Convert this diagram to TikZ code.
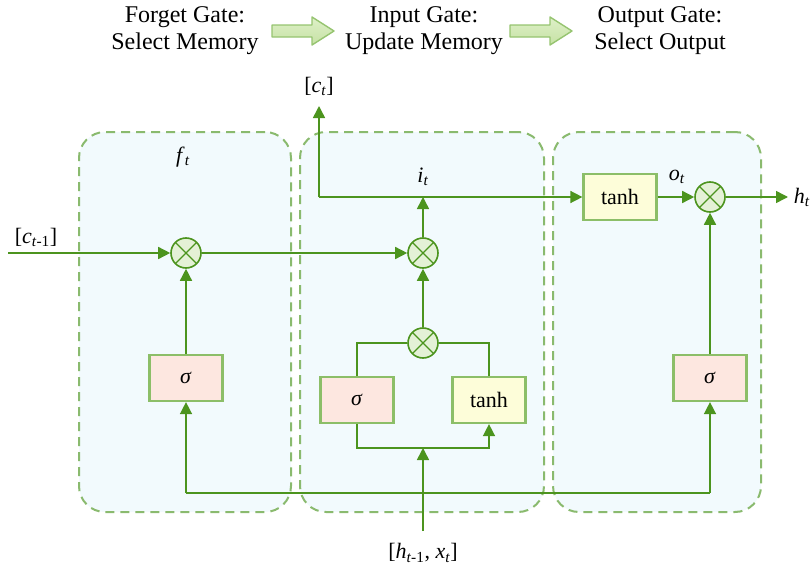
\documentclass[tikz,border=0pt]{standalone}
\usepackage{fontspec}
\setmainfont{Liberation Serif}
\newfontfamily\diagfont{Liberation Serif}
\usetikzlibrary{arrows.meta}

\definecolor{flow}{RGB}{76,148,30}
\definecolor{mulfill}{RGB}{228,241,214}
\definecolor{panelfill}{RGB}{242,250,253}
\definecolor{paneldraw}{RGB}{138,186,110}
\definecolor{boxdraw}{RGB}{140,190,104}
\definecolor{sigfill}{RGB}{253,231,224}
\definecolor{tanhfill}{RGB}{253,253,217}
\definecolor{hdrfill}{RGB}{198,226,164}
\definecolor{hdrlight}{RGB}{222,240,200}
\definecolor{hdrdraw}{RGB}{150,196,112}

% italic variable with an italic subscript
\newcommand\var[2]{\textit{#1}\textsubscript{\textit{#2}}}

\begin{document}
\begin{tikzpicture}[x=1pt,y=-1pt,
  font=\diagfont\fontsize{22}{26}\selectfont,
  gatebox/.style={draw=paneldraw, fill=panelfill, line width=2pt,
    dash pattern=on 9pt off 6pt, rounded corners=26pt, inner sep=0pt},
  hdr/.style={align=center, font=\diagfont\fontsize{24}{27}\selectfont, inner sep=0pt},
  hdrarrow/.style={draw=hdrdraw, top color=hdrlight, bottom color=hdrfill,
    line width=1.4pt, line join=round},
  mul/.style={circle, draw=flow, fill=mulfill, line width=1.6pt,
    minimum size=30pt, inner sep=0pt,
    path picture={\draw[flow, line width=1.4pt]
      (path picture bounding box.north west) -- (path picture bounding box.south east)
      (path picture bounding box.north east) -- (path picture bounding box.south west);}},
  actbox/.style={draw=boxdraw, line width=2.2pt, minimum width=73pt,
    minimum height=46pt, inner sep=0pt},
  sigbox/.style={actbox, fill=sigfill},
  tanhbox/.style={actbox, fill=tanhfill},
  wire/.style={draw=flow, line width=1.5pt},
  wirearrow/.style={wire, -{Triangle[length=12pt,width=12pt]}},
  lbl/.style={inner sep=0pt}
]
\useasboundingbox (0,0) rectangle (812,570);

% headline: the three stages
\node[hdr] (hforget) at (185,31) {Forget Gate:\\Select Memory};
\node[hdr] (hinput) at (424,31) {Input Gate:\\Update Memory};
\node[hdr] (houtput) at (660,31) {Output Gate:\\Select Output};
\draw[hdrarrow] (272,25) -- (312,25) -- (312,17) -- (334,31) -- (312,45) -- (312,37) -- (272,37) -- cycle;
\draw[hdrarrow] (510,25) -- (550,25) -- (550,17) -- (572,31) -- (550,45) -- (550,37) -- (510,37) -- cycle;

% gate panels
\node[gatebox, minimum width=212pt, minimum height=380pt] (pforget) at (185,322) {};
\node[gatebox, minimum width=244pt, minimum height=380pt] (pinput) at (422,322) {};
\node[gatebox, minimum width=208pt, minimum height=380pt] (poutput) at (657,322) {};

% operations
\node[mul] (m1) at (186,253) {};
\node[mul] (m2) at (423,253) {};
\node[mul] (m3) at (423,343) {};
\node[mul] (m4) at (710,197) {};
\node[sigbox] (s1) at (186,378) {\textit{σ}};
\node[sigbox] (s2) at (357,400) {\textit{σ}};
\node[tanhbox] (t2) at (489,400) {tanh};
\node[tanhbox] (t3) at (620,197) {tanh};
\node[sigbox] (s3) at (710,378) {\textit{σ}};

% free ends and junctions
\coordinate (cin) at (8,253);
\coordinate (hin) at (423,531);
\coordinate (j) at (423,448);
\coordinate (bl) at (186,493);
\coordinate (br) at (710,493);
\coordinate (ctap) at (319,197);
\coordinate (ctop) at (319,106);
\coordinate (hout) at (788,197);

% cell state path
\draw[wirearrow] (cin) -- (m1);
\draw[wirearrow] (m1) -- (m2);
\draw[wirearrow] (m3) -- (m2);
\draw[wirearrow] (m2) -- (m2 |- ctap);
\draw[wirearrow] (ctap) -- (ctop);
\draw[wirearrow] (ctap) -- (t3);
\draw[wirearrow] (t3) -- (m4);
\draw[wirearrow] (m4) -- (hout);

% gate activations
\draw[wirearrow] (s1) -- (m1);
\draw[wirearrow] (s3) -- (m4);
\draw[wire] (s2.north) |- (m3.west);
\draw[wire] (t2.north) |- (m3.east);

% input distribution
\draw[wirearrow] (s2.south) |- (j) -| (t2.south);
\draw[wirearrow] (hin) -- (j);
\draw[wire] (bl) -- (br);
\draw[wirearrow] (bl) -- (s1);
\draw[wirearrow] (br) -- (s3);

% labels
\node[lbl] (lct) at (319,86) {[\var{c}{t}]};
\node[lbl] (lft) at (183,157) {\var{f}{t}};
\node[lbl] (lit) at (423,177) {\var{i}{t}};
\node[lbl] (lot) at (677,177) {\var{o}{t}};
\node[lbl] (lht) at (802,197) {\var{h}{t}};
\node[lbl] (lcprev) at (36,237) {[\textit{c}\textsubscript{\textit{t}-1}]};
\node[lbl] (lhx) at (423,553) {[\textit{h}\textsubscript{\textit{t}-1}, \var{x}{t}]};
\end{tikzpicture}
\end{document}
